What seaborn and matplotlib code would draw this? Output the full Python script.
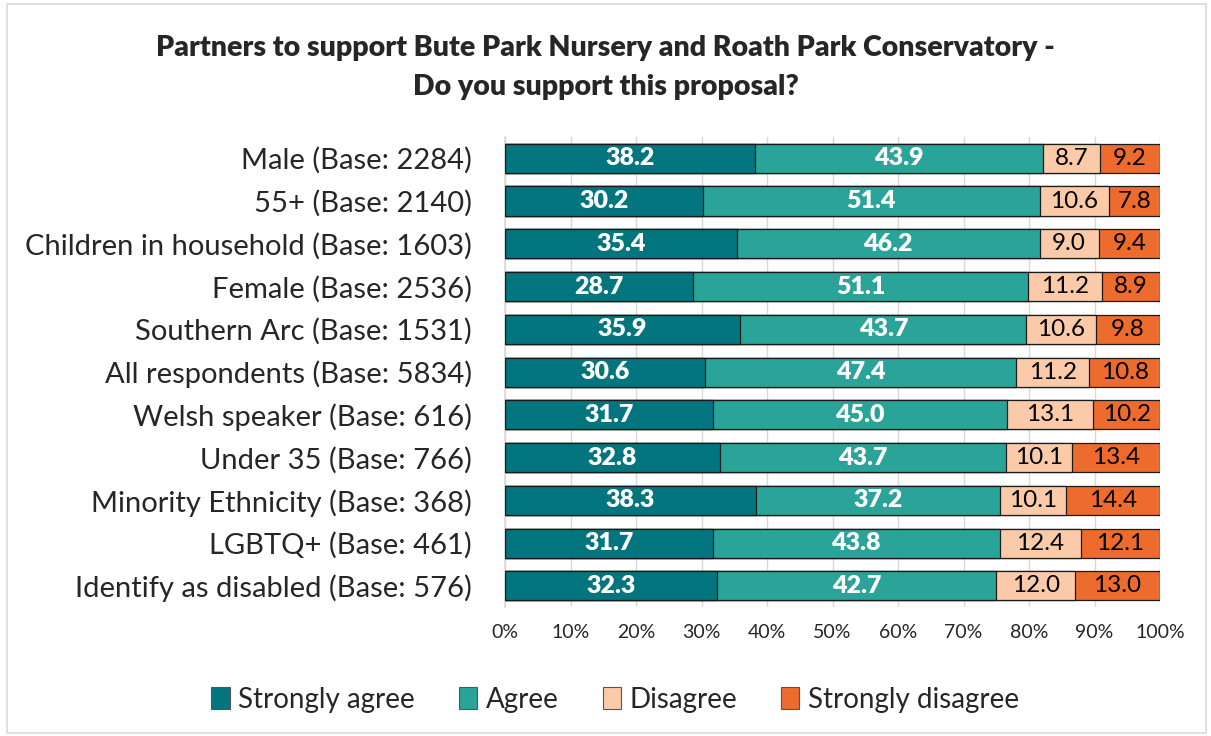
import numpy as np
import pandas as pd
import seaborn as sns
import matplotlib.pyplot as plt
from matplotlib.patches import Patch

groups = ['Male (Base: 2284)', '55+ (Base: 2140)', 'Children in household (Base: 1603)',
          'Female (Base: 2536)', 'Southern Arc (Base: 1531)', 'All respondents (Base: 5834)',
          'Welsh speaker (Base: 616)', 'Under 35 (Base: 766)', 'Minority Ethnicity (Base: 368)',
          'LGBTQ+ (Base: 461)', 'Identify as disabled (Base: 576)']
strongly_agree = [38.2, 30.2, 35.4, 28.7, 35.9, 30.6, 31.7, 32.8, 38.3, 31.7, 32.3]
agree = [43.9, 51.4, 46.2, 51.1, 43.7, 47.4, 45.0, 43.7, 37.2, 43.8, 42.7]
disagree = [8.7, 10.6, 9.0, 11.2, 10.6, 11.2, 13.1, 10.1, 10.1, 12.4, 12.0]
strongly_disagree = [9.2, 7.8, 9.4, 8.9, 9.8, 10.8, 10.2, 13.4, 14.4, 12.1, 13.0]
series = ['Strongly agree', 'Agree', 'Disagree', 'Strongly disagree']
colors = ['#03757E', '#2AA398', '#FBCAA8', '#EC6B2D']

df = pd.DataFrame({'group': groups, 'Strongly agree': strongly_agree, 'Agree': agree,
                   'Disagree': disagree, 'Strongly disagree': strongly_disagree})
vals = df[series].values
cum = vals.cumsum(axis=1)
cum = cum / cum[:, -1:] * 100  # normalise to 100%

sns.set_theme(style="white")
plt.rcParams['font.family'] = ['Lato', 'DejaVu Sans']

fig = plt.figure(figsize=(12.11, 7.36), dpi=100)
ax = fig.add_axes([0.417, 0.175, 0.541, 0.639])

# overlay cumulative bars, widest first
for i in range(3, -1, -1):
    d = pd.DataFrame({'group': groups, 'x': cum[:, i]})
    sns.barplot(data=d, y='group', x='x', color=colors[i], width=0.68, saturation=1,
                edgecolor='#1a1a1a', linewidth=0.9, ax=ax, zorder=3)

starts = np.hstack([np.zeros((len(groups), 1)), cum[:, :-1]])
for r in range(len(groups)):
    for i in range(4):
        xc = (starts[r, i] + cum[r, i]) / 2
        if i < 2:
            ax.text(xc, r, f'{vals[r, i]:.1f}', ha='center', va='center', color='white',
                    fontsize=18, fontweight='heavy', zorder=5)
        else:
            ax.text(xc, r, f'{vals[r, i]:.1f}', ha='center', va='center', color='black',
                    fontsize=17.5, zorder=5)

ax.set_xlim(0, 100)
ax.set_ylim(len(groups) - 0.5, -0.5)
ax.set_xticks(np.arange(0, 101, 10))
ax.set_xticklabels([f'{t}%' for t in range(0, 101, 10)], fontsize=14)
ax.tick_params(axis='x', pad=12, length=0)
ax.tick_params(axis='y', labelsize=21, length=0, pad=24)
ax.xaxis.grid(True, color='#d9d9d9', linewidth=1, zorder=0)
ax.set_axisbelow(True)
ax.set(xlabel=None, ylabel=None)
for s in ['top', 'right', 'bottom']:
    ax.spines[s].set_visible(False)
ax.spines['left'].set_color('#d9d9d9')

fig.text(0.5, 0.935, 'Partners to support Bute Park Nursery and Roath Park Conservatory -',
         ha='center', va='center', fontsize=20.5, fontweight='heavy')
fig.text(0.5, 0.882, 'Do you support this proposal?', ha='center', va='center',
         fontsize=20.5, fontweight='heavy')

handles = [Patch(facecolor=c, edgecolor='#555555', linewidth=0.8) for c in colors]
fig.legend(handles, series, loc='center', bbox_to_anchor=(0.508, 0.049), ncol=4, frameon=False,
           fontsize=20, handlelength=0.65, handleheight=0.85, handletextpad=0.3, columnspacing=1.6)

fig.patches.append(plt.Rectangle((0.006, 0.004), 0.99, 0.99, transform=fig.transFigure,
                                 fill=False, edgecolor='#d9d9d9', linewidth=1.2))
plt.savefig('out.png', dpi=100)
